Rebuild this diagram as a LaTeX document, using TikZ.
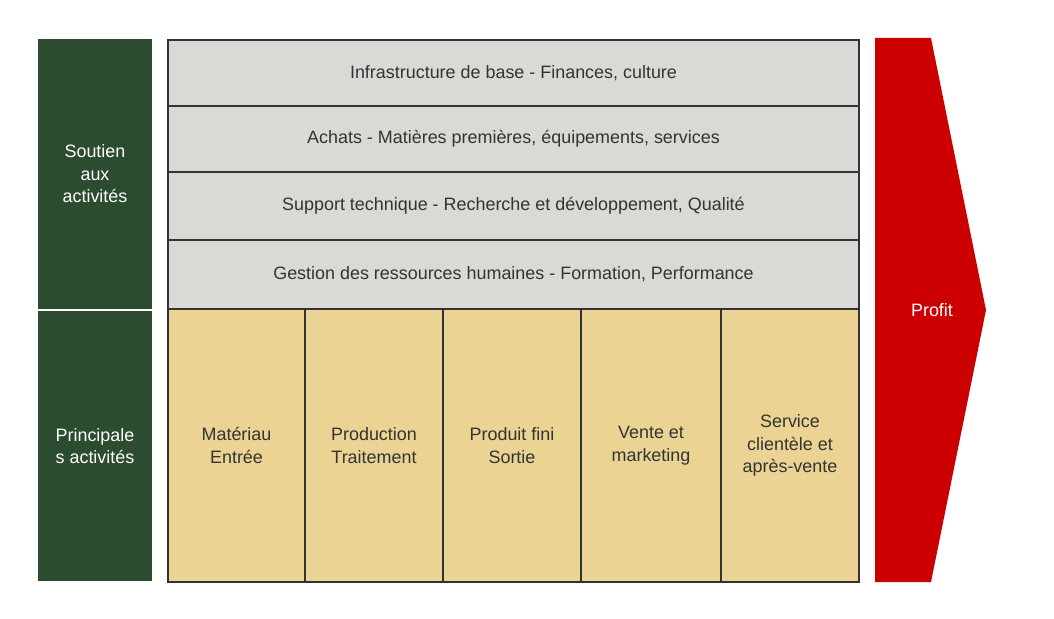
\documentclass[tikz,border=0pt]{standalone}
\usepackage{fontspec}
\setmainfont{Liberation Sans}
\definecolor{vgreen}{HTML}{2B4C2F}
\definecolor{vgray}{HTML}{DAD9D5}
\definecolor{vyellow}{HTML}{EBD393}
\definecolor{vred}{HTML}{CC0000}
\definecolor{vtext}{HTML}{333333}
\definecolor{vline}{HTML}{333333}
\begin{document}
\begin{tikzpicture}[x=1bp,y=-1bp,
  every node/.style={font=\fontsize{18}{22.5}\selectfont, align=center, inner sep=0pt},
  greenbox/.style={fill=vgreen, text=white, minimum width=114bp},
  graybox/.style={draw=vline, line width=1.2bp, fill=vgray, text=vtext, minimum width=691bp},
  yellowbox/.style={draw=vline, line width=1.2bp, fill=vyellow, text=vtext, minimum height=273bp}]
\useasboundingbox (0,0) rectangle (1054,619);
% left green labels
\node[greenbox, minimum height=270bp] (sup) at (95,174) {Soutien\\aux\\activités};
\node[greenbox, minimum height=270bp] (prim) at (95,446) {Principale\\s activités};
% support rows
\node[graybox, minimum height=66bp] (r1) at (513.5,73) {Infrastructure de base - Finances, culture};
\node[graybox, minimum height=66bp] (r2) at (513.5,139) {Achats - Matières premières, équipements, services};
\node[graybox, minimum height=68bp] (r3) at (513.5,206) {Support technique - Recherche et développement, Qualité};
\node[graybox, minimum height=69bp] (r4) at (513.5,274.5) {Gestion des ressources humaines - Formation, Performance};
% primary columns
\node[yellowbox, minimum width=137bp] (c1) at (236.5,445.5) {Matériau\\Entrée};
\node[yellowbox, minimum width=138bp] (c2) at (374,445.5) {Production\\Traitement};
\node[yellowbox, minimum width=138bp] (c3) at (512,445.5) {Produit fini\\Sortie};
\node[yellowbox, minimum width=140bp] (c4) at (651,445.5) {Vente et\\marketing};
\node[yellowbox, minimum width=138bp] (c5) at (790,445.5) {Service\\clientèle et\\après-vente};
% profit arrow
\fill[vred] (875,38) -- (931,38) -- (986,310) -- (931,582) -- (875,582) -- cycle;
\node[text=white] (profit) at (932,310) {Profit};
\end{tikzpicture}
\end{document}
